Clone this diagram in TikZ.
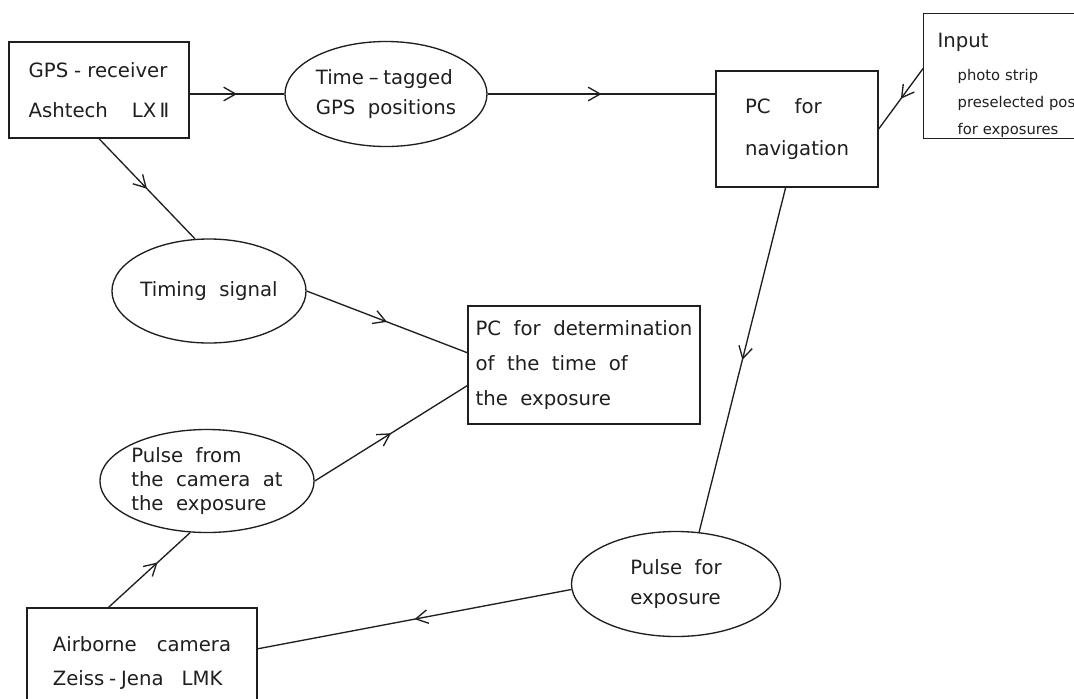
\documentclass[tikz,border=0pt]{standalone}
\usepackage{fontspec}
\setmainfont{DejaVu Sans}[WordSpace=2]
\usetikzlibrary{arrows.meta, calc, decorations.markings, shapes.geometric}

\definecolor{ink}{gray}{0.12}
\newcommand{\nodefont}[2]{\fontsize{#1}{#2}\selectfont}

\tikzset{
  box/.style={draw=ink, rectangle, align=left, inner sep=0pt},
  oval/.style={draw=ink, ellipse, align=left, inner sep=0pt},
  flow/.style={draw=ink, postaction={decorate},
    decoration={markings, mark=at position #1 with {\arrow{Straight Barb[length=3mm, width=3.4mm]}}}},
  flow/.default=0.5
}

\begin{document}
\begin{tikzpicture}[x=0.25mm, y=-0.25mm, line width=0.95pt, text=ink]
  \useasboundingbox (0,0) rectangle (1074,698);
  \fill[white] (0,0) rectangle (1074,698);
  \clip (0,0) rectangle (1074,698);

  % boxes
  \node[box, minimum width=45mm, minimum height=24mm, font={\nodefont{14pt}{28.5pt}}] (gps) at (99,90)
    {GPS\hspace{1.5mm}-\hspace{1.5mm}receiver\\Ashtech\hspace{6mm}LX\,Ⅱ};
  \node[box, minimum width=40.5mm, minimum height=29mm, font={\nodefont{14pt}{29.9pt}}] (nav) at (797,129)
    {PC\hspace{6mm}for\\navigation};
  \node[box, anchor=north west, text width=43mm, inner xsep=3.5mm, minimum height=31.25mm,
        font={\nodefont{10.5pt}{19.2pt}}] (input) at (923,13)
    {\rule{0pt}{8mm}{\nodefont{14pt}{17pt}Input}\\[1.5mm]
     \hspace*{5mm}photo strip\\ \hspace*{5mm}preselected pos\\ \hspace*{5mm}for exposures};
  \node[box, minimum width=58mm, minimum height=29.5mm, font={\nodefont{14pt}{24.9pt}}] (det) at (584,365)
    {PC for determination\\of the time of\\the exposure};
  \node[box, minimum width=57.5mm, minimum height=27.5mm, font={\nodefont{14pt}{24.2pt}}] (cambox) at (142,663)
    {Airborne\hspace{5mm}camera\\Zeiss\hspace{1.2mm}-\hspace{1.2mm}Jena\hspace{4.5mm}LMK};

  % ellipses
  \node[oval, minimum width=50.5mm, minimum height=26.25mm, font={\nodefont{14pt}{21.3pt}}] (tag) at (386,94)
    {Time\hspace{1.2mm}–\hspace{1.2mm}tagged\\GPS positions};
  \node[oval, minimum width=47mm, minimum height=26mm, font={\nodefont{14pt}{17pt}}] (timing) at (209,291)
    {Timing signal};
  \node[oval, minimum width=52.25mm, minimum height=25.75mm, font={\nodefont{14pt}{17.1pt}}] (cam) at (207,481)
    {Pulse from\\the camera at\\the exposure};
  \node[oval, minimum width=52.25mm, minimum height=26.25mm, font={\nodefont{14pt}{21.3pt}}] (exp) at (676,584)
    {Pulse for\\exposure};

  % connectors
  \draw[flow] (tag.west -| gps.east) -- (tag.west);
  \draw[flow] (tag.east) -- (tag.east -| nav.west);
  \draw[flow] ($(input.north west)!0.44!(input.south west)$) -- (nav.east);
  \draw[flow] (gps.south) -- (timing.105);
  \draw[flow] (timing.east) -- (det.174);
  \draw[flow] (cam.east) -- (det.190);
  \draw[flow] (nav.259) -- (exp.66);
  \draw[flow] (exp.183) -- (cambox.7);
  \draw[flow=0.6] (cambox.121) -- (cam.252);
\end{tikzpicture}
\end{document}
